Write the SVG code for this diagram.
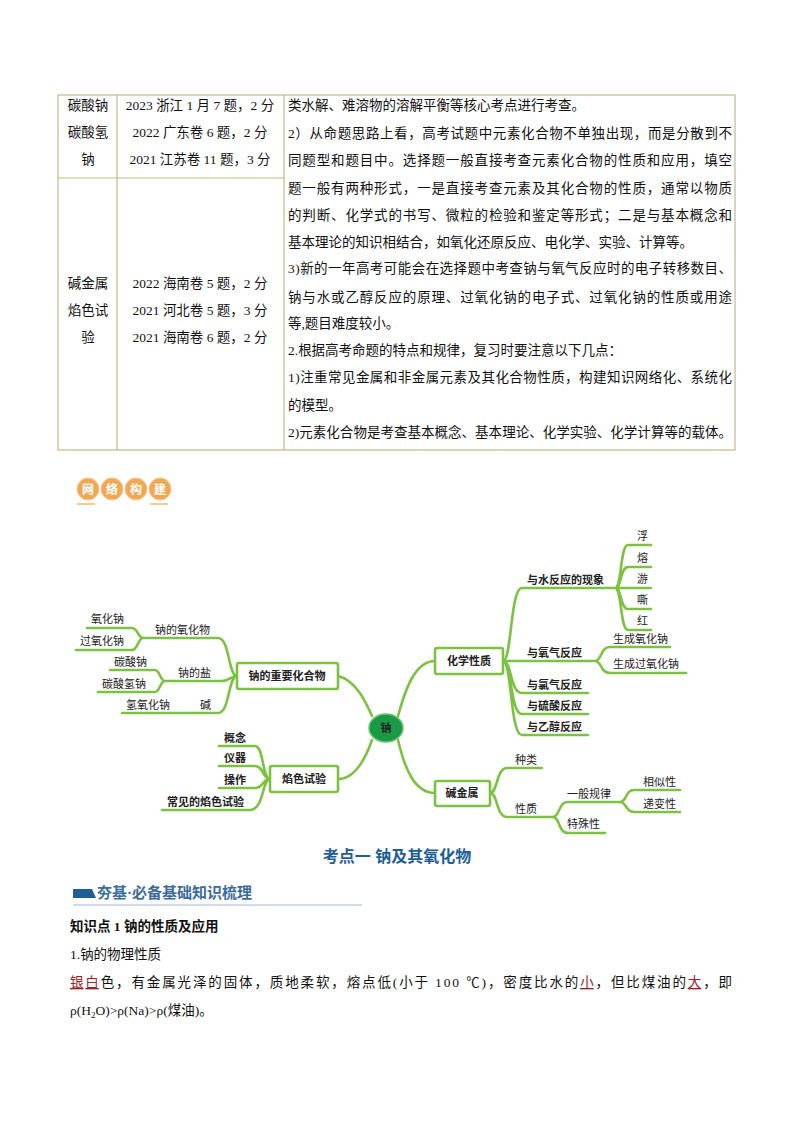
<svg xmlns="http://www.w3.org/2000/svg" width="794" height="1123" viewBox="0 0 794 1123">
<style>
.t{font-family:"Liberation Serif","Noto Sans CJK SC",serif;font-size:13.5px;fill:#111}
.m{font-family:"Liberation Sans","Noto Sans CJK SC",sans-serif;font-size:11px;fill:#222}
.b{font-weight:bold}
.g{fill:none;stroke:#7cc242;stroke-width:2.6;stroke-linecap:round}
.bx{fill:#fff;stroke:#7cc242;stroke-width:2.6}
.tb{fill:none;stroke:#c2b98c;stroke-width:1.2}
</style>
<rect width="794" height="1123" fill="#fff"/>
<g id="table">
<rect class="tb" x="58" y="95" width="677" height="355"/>
<line class="tb" x1="117" y1="95" x2="117" y2="450"/>
<line class="tb" x1="284" y1="95" x2="284" y2="450"/>
<line class="tb" x1="58" y1="178" x2="284" y2="178"/>
<g class="t" text-anchor="middle">
<text x="88" y="110">碳酸钠</text><text x="88" y="137">碳酸氢</text><text x="88" y="164">钠</text>
<text x="200" y="110">2023 浙江 1 月 7 题，2 分</text><text x="200" y="137">2022 广东卷 6 题，2 分</text><text x="200" y="164">2021 江苏卷 11 题，3 分</text>
<text x="88" y="288">碱金属</text><text x="88" y="315">焰色试</text><text x="88" y="342">验</text>
<text x="200" y="288">2022 海南卷 5 题，2 分</text><text x="200" y="315">2021 河北卷 5 题，3 分</text><text x="200" y="342">2021 海南卷 6 题，2 分</text>
</g>
<g class="t">
<text x="288" y="110">类水解、难溶物的溶解平衡等核心考点进行考查。</text>
<text x="288" y="138" textLength="444">2）从命题思路上看，高考试题中元素化合物不单独出现，而是分散到不</text>
<text x="288" y="165" textLength="444">同题型和题目中。选择题一般直接考查元素化合物的性质和应用，填空</text>
<text x="288" y="193" textLength="444">题一般有两种形式，一是直接考查元素及其化合物的性质，通常以物质</text>
<text x="288" y="220" textLength="444">的判断、化学式的书写、微粒的检验和鉴定等形式；二是与基本概念和</text>
<text x="288" y="247">基本理论的知识相结合，如氧化还原反应、电化学、实验、计算等。</text>
<text x="288" y="273" textLength="444">3)新的一年高考可能会在选择题中考查钠与氧气反应时的电子转移数目、</text>
<text x="288" y="302" textLength="444">钠与水或乙醇反应的原理、过氧化钠的电子式、过氧化钠的性质或用途</text>
<text x="288" y="328">等,题目难度较小。</text>
<text x="288" y="355">2.根据高考命题的特点和规律，复习时要注意以下几点：</text>
<text x="288" y="382" textLength="444">1)注重常见金属和非金属元素及其化合物性质，构建知识网络化、系统化</text>
<text x="288" y="410">的模型。</text>
<text x="288" y="437" textLength="444">2)元素化合物是考查基本概念、基本理论、化学实验、化学计算等的载体。</text>
</g>
</g>
<g id="badge" font-family="Liberation Sans,Noto Sans CJK SC,sans-serif" font-size="12" font-weight="bold" fill="#fff" text-anchor="middle">
<circle cx="88" cy="489" r="11" fill="#f0a756" stroke="#f7c993"/><circle cx="112" cy="489" r="11" fill="#f0a756" stroke="#f7c993"/>
<circle cx="136" cy="489" r="11" fill="#f0a756" stroke="#f7c993"/><circle cx="160" cy="489" r="11" fill="#f0a756" stroke="#f7c993"/>
<text x="88" y="494">网</text><text x="112" y="494">络</text><text x="136" y="494">构</text><text x="160" y="494">建</text>
<rect x="77" y="503" width="18" height="2" fill="#f7c993"/><rect x="150" y="503" width="18" height="2" fill="#f7c993"/>
</g>
<g id="connectors">
<path class="g" d="M372 716 C365 700 355 680 338 676"/>
<path class="g" d="M372 740 C365 760 355 779 338 779"/>
<path class="g" d="M398 716 C405 690 415 661 435 661"/>
<path class="g" d="M398 740 C405 770 415 793 435 793"/>
<path class="g" d="M237 676 C228 676 230 638 218 638 L143 638 M143 638 C138 638 138 628 132 628 L87 628 M143 638 C138 638 138 650 132 650 L76 650"/>
<path class="g" d="M237 676 C230 676 230 681 222 681 L165 681 M165 681 C160 681 160 670 155 670 L110 670 M165 681 C160 681 160 692 155 692 L98 692"/>
<path class="g" d="M237 676 C228 676 230 713 218 713 L122 713"/>
<path class="g" d="M270 779 C262 779 264 746 255 746 L219 746 M270 779 C262 779 264 766 255 766 L219 766 M270 779 C262 779 264 788 255 788 L219 788 M270 779 C262 779 264 810 250 810 L162 810"/>
<path class="g" d="M503 661 C512 661 510 588 522 588 L615 588 M615 588 C622 588 620 545 628 545 L651 545 M615 588 C622 588 620 567 628 567 L651 567 M615 588 L651 588 M615 588 C622 588 620 609 628 609 L651 609 M615 588 C622 588 620 630 628 630 L651 630"/>
<path class="g" d="M503 661 L595 661 M595 661 C602 661 600 647 610 647 L670 647 M595 661 C602 661 600 673 610 673 L686 673"/>
<path class="g" d="M503 661 C512 661 510 693 522 693 L588 693 M503 661 C512 661 510 714 522 714 L588 714 M503 661 C512 661 510 735 522 735 L588 735"/>
<path class="g" d="M490 793 C498 793 496 768 507 768 L542 768 M490 793 C498 793 496 817 507 817 L553 817"/>
<path class="g" d="M553 817 C560 817 558 802 568 802 L620 802 M553 817 C560 817 558 833 568 833 L605 833"/>
<path class="g" d="M620 802 C627 802 625 790 634 790 L680 790 M620 802 C627 802 625 812 634 812 L680 812"/>
</g>
<g id="n-na"><ellipse cx="386" cy="728" rx="17" ry="14" fill="#1a9a44" stroke="#6fc36f" stroke-width="1.5"/><text class="m b" x="386" y="732" text-anchor="middle">钠</text></g>
<g id="n-compounds"><rect class="bx" x="237" y="663" width="101" height="26" rx="2"/><text class="m b" x="287" y="680" text-anchor="middle">钠的重要化合物</text></g>
<g id="n-flame"><rect class="bx" x="270" y="766" width="68" height="26" rx="2"/><text class="m b" x="304" y="783" text-anchor="middle">焰色试验</text></g>
<g id="n-chem"><rect class="bx" x="435" y="648" width="68" height="26" rx="2"/><text class="m b" x="469" y="665" text-anchor="middle">化学性质</text></g>
<g id="n-alkali"><rect class="bx" x="435" y="781" width="55" height="25" rx="2"/><text class="m b" x="462" y="797" text-anchor="middle">碱金属</text></g>
<g id="labels" class="m">
<text x="155" y="634">钠的氧化物</text><text x="91" y="623">氧化钠</text><text x="80" y="645">过氧化钠</text>
<text x="178" y="677">钠的盐</text><text x="114" y="666">碳酸钠</text><text x="102" y="688">碳酸氢钠</text>
<text x="126" y="709">氢氧化钠</text><text x="200" y="709">碱</text>
<g class="b"><text x="224" y="742">概念</text><text x="224" y="762">仪器</text><text x="224" y="784">操作</text><text x="167" y="806">常见的焰色试验</text>
<text x="527" y="584">与水反应的现象</text><text x="527" y="657">与氧气反应</text><text x="527" y="689">与氯气反应</text><text x="527" y="710">与硫酸反应</text><text x="527" y="731">与乙醇反应</text></g>
<text x="637" y="540">浮</text><text x="637" y="562">熔</text><text x="637" y="583">游</text><text x="637" y="604">嘶</text><text x="637" y="625">红</text>
<text x="613" y="643">生成氧化钠</text><text x="613" y="668">生成过氧化钠</text>
<text x="515" y="764">种类</text><text x="515" y="813">性质</text><text x="567" y="798">一般规律</text><text x="567" y="828">特殊性</text>
<text x="643" y="786">相似性</text><text x="643" y="808">递变性</text>
</g>
<g id="bottom">
<text x="397" y="862" text-anchor="middle" font-family="Liberation Sans,Noto Sans CJK SC,sans-serif" font-size="16" font-weight="bold" fill="#1f5d96">考点一  钠及其氧化物</text>
<polygon points="73,889 92,889 96,898 73,898" fill="#1f5d96"/>
<text x="97" y="898" font-family="Liberation Serif,Noto Sans CJK SC,serif" font-size="15" font-weight="bold" fill="#3c6c9c">夯基·必备基础知识梳理</text>
<line x1="73" y1="905" x2="362" y2="905" stroke="#9db7d3" stroke-width="1"/>
<text class="t b" x="70" y="931">知识点 1  钠的性质及应用</text>
<text class="t" x="70" y="959">1.钠的物理性质</text>
<text class="t" x="70" y="987" textLength="662"><tspan fill="#a0202a" text-decoration="underline">银白</tspan>色，有金属光泽的固体，质地柔软，熔点低(小于 100 ℃)，密度比水的<tspan fill="#a0202a" text-decoration="underline">小</tspan>，但比煤油的<tspan fill="#a0202a" text-decoration="underline">大</tspan>，即</text>
<text class="t" x="70" y="1015">ρ(H<tspan font-size="9" dy="3">2</tspan><tspan dy="-3">O)&gt;ρ(Na)&gt;ρ(煤油)。</tspan></text>
</g>
</svg>
